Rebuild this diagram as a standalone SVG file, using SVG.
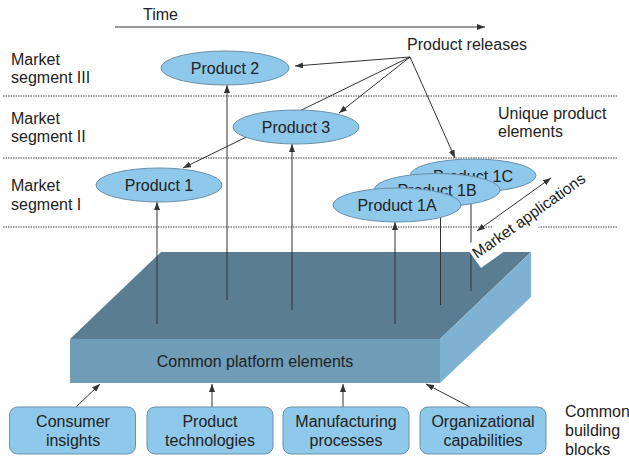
<svg xmlns="http://www.w3.org/2000/svg" width="629" height="458" viewBox="0 0 629 458">
<defs>
<style>
text{font-family:"Liberation Sans",Arial,sans-serif;font-size:16px;fill:#222}
.c{text-anchor:middle}
.ln{stroke:#333;stroke-width:1;fill:none}
.arr{stroke:#333;stroke-width:1;fill:none;marker-end:url(#ah)}
.dot{stroke:#444;stroke-width:1;stroke-dasharray:1.5 1;fill:none}
.ell{fill:#8ec8ea;stroke:#6a90a8;stroke-width:1}
.box{fill:#8ec8ea;stroke:#6a90a8;stroke-width:1}
</style>
<marker id="ah" markerUnits="userSpaceOnUse" markerWidth="8" markerHeight="6" refX="8" refY="3" orient="auto-start-reverse">
<path d="M0,0 L8,3 L0,6 Z" fill="#333"/>
</marker>
</defs>
<rect width="629" height="458" fill="#fff"/>

<g id="labels">
<text x="143" y="20">Time</text>
<text x="11" y="65">Market</text>
<text x="11" y="83">segment III</text>
<text x="11" y="124">Market</text>
<text x="11" y="142">segment II</text>
<text x="11" y="191">Market</text>
<text x="11" y="210">segment I</text>
<text x="407" y="50">Product releases</text>
<text x="498" y="119">Unique product</text>
<text x="498" y="137">elements</text>
<text x="565" y="417">Common</text>
<text x="565" y="436">building</text>
<text x="565" y="455">blocks</text>
</g>

<g id="segment-lines">
<line class="dot" x1="3" y1="96" x2="617" y2="96"/>
<line class="dot" x1="3" y1="158" x2="617" y2="158"/>
<line class="dot" x1="3" y1="227" x2="617" y2="227"/>
</g>

<g id="platform">
<polygon points="161,252 531,252 440,339 70,339" fill="#5b7d91"/>
<polygon points="440,339 531,252 531,297 440,383" fill="#7fb2d2"/>
<rect x="70" y="339" width="370" height="44" fill="#6f9db8"/>
<text x="255" y="367" class="c">Common platform elements</text>
</g>

<g id="connectors">
<line class="arr" x1="115" y1="27" x2="485" y2="27"/>
<line class="arr" x1="410" y1="57" x2="295" y2="66"/>
<line class="arr" x1="410" y1="57" x2="339" y2="113"/>
<line class="arr" x1="410" y1="57" x2="183" y2="168"/>
<line class="arr" x1="410" y1="57" x2="455" y2="158"/>
<line class="arr" x1="157" y1="324" x2="157" y2="202"/>
<line class="arr" x1="227" y1="300" x2="227" y2="85"/>
<line class="arr" x1="292" y1="310" x2="292" y2="144"/>
<line class="arr" x1="395" y1="324" x2="395" y2="222"/>
<line class="ln" x1="440.5" y1="305" x2="440.5" y2="206"/>
<line class="ln" x1="471" y1="291" x2="471" y2="204"/>
<line class="arr" x1="76" y1="407" x2="100" y2="384"/>
<line class="arr" x1="212" y1="407" x2="212" y2="384"/>
<line class="arr" x1="343" y1="407" x2="343" y2="384"/>
<line class="arr" x1="470" y1="407" x2="426" y2="384"/>
<line class="arr" x1="477" y1="231" x2="551" y2="178" style="marker-start:url(#ah)"/>
</g>

<g id="market-applications" transform="translate(481,268) rotate(-35.5)">
<rect x="0" y="-26.5" width="142" height="26.5" fill="#fff"/>
<text x="2" y="-9.5" style="font-size:15.6px">Market applications</text>
</g>

<g id="product-2">
<ellipse class="ell" cx="225" cy="68" rx="64" ry="17"/>
<text x="225" y="74" class="c">Product 2</text>
</g>
<g id="product-3">
<ellipse class="ell" cx="296" cy="127" rx="63" ry="17"/>
<text x="296" y="133" class="c">Product 3</text>
</g>
<g id="product-1">
<ellipse class="ell" cx="159" cy="185" rx="63" ry="17"/>
<text x="159" y="191" class="c">Product 1</text>
</g>
<g id="product-1c">
<ellipse class="ell" cx="473" cy="175.5" rx="63" ry="16.5"/>
<text x="473" y="181.5" class="c">Product 1C</text>
</g>
<g id="product-1b">
<ellipse class="ell" cx="437" cy="190" rx="63" ry="16.5"/>
<text x="437" y="196" class="c">Product 1B</text>
</g>
<g id="product-1a">
<ellipse class="ell" cx="397" cy="205" rx="64" ry="17"/>
<text x="397" y="211" class="c">Product 1A</text>
</g>

<g id="consumer-insights">
<rect class="box" x="9.5" y="407" width="126" height="47" rx="8"/>
<text x="73" y="427" class="c">Consumer</text>
<text x="73" y="446" class="c">insights</text>
</g>
<g id="product-technologies">
<rect class="box" x="147" y="407" width="126" height="47" rx="8"/>
<text x="210" y="427" class="c">Product</text>
<text x="210" y="446" class="c">technologies</text>
</g>
<g id="manufacturing-processes">
<rect class="box" x="283" y="407" width="126" height="47" rx="8"/>
<text x="346" y="427" class="c">Manufacturing</text>
<text x="346" y="446" class="c">processes</text>
</g>
<g id="organizational-capabilities">
<rect class="box" x="420" y="407" width="126" height="47" rx="8"/>
<text x="483" y="427" class="c">Organizational</text>
<text x="483" y="446" class="c">capabilities</text>
</g>
</svg>
